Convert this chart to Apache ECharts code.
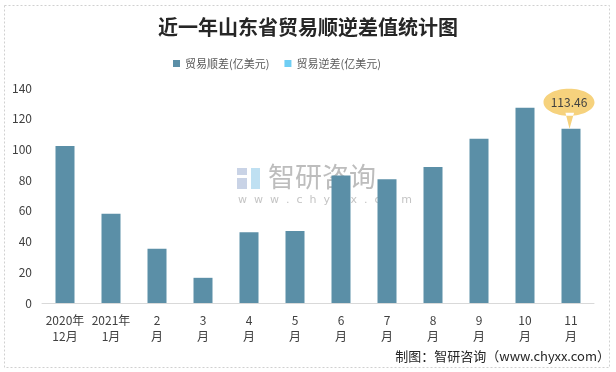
<!DOCTYPE html>
<html><head><meta charset="utf-8">
<script src="https://cdn.jsdelivr.net/npm/echarts@6/dist/echarts.min.js"></script>
<style>html,body{margin:0;padding:0;background:#fff}#c{width:616px;height:372px}</style>
</head><body><div id="c"></div>
<script>
const categories = ['2020年\n12月','2021年\n1月','2\n月','3\n月','4\n月','5\n月','6\n月','7\n月','8\n月','9\n月','10\n月','11\n月'];
const surplus = [102.2, 58.1, 35.3, 16.4, 46.1, 46.9, 83.1, 80.6, 88.6, 106.9, 127.1, 113.46];
const deficit = [];
const yTicks = [0, 20, 40, 60, 80, 100, 120, 140];
const highlightIndex = 11;

const chart = echarts.init(document.getElementById('c'));
const font = '"Microsoft YaHei","Noto Sans CJK SC",sans-serif';
const bubble = 'path://M0 13.5C0 6.04 11.19 0 25 0C38.81 0 50 6.04 50 13.5C50 20.96 38.81 27 25 27C11.19 27 0 20.96 0 13.5Z M21.5 24L25.5 40L30 24Z';
chart.setOption({
  animation: false,
  title: {
    text: '近一年山东省贸易顺逆差值统计图',
    left: 'center', top: 12,
    textStyle: {fontFamily: '"Noto Sans CJK SC",serif', fontSize: 20, fontWeight: 'bold', color: '#262626'}
  },
  legend: {
    top: 53, left: 168, itemWidth: 7, itemHeight: 7, itemGap: 15,
    icon: 'rect',
    textStyle: {fontFamily: font, fontSize: 11, color: '#595959'},
    data: ['贸易顺差(亿美元)', '贸易逆差(亿美元)']
  },
  grid: {left: 42, right: 22, top: 88, bottom: 69},
  xAxis: {
    type: 'category', data: categories,
    axisLine: {lineStyle: {color: '#D9D9D9'}},
    axisTick: {show: false},
    axisLabel: {interval: 0, color: '#404040', fontFamily: font, fontSize: 12, lineHeight: 16, margin: 9}
  },
  yAxis: {
    type: 'value', min: yTicks[0], max: yTicks[yTicks.length - 1], interval: 20,
    axisLine: {show: false}, axisTick: {show: false}, splitLine: {show: false},
    axisLabel: {color: '#404040', fontFamily: font, fontSize: 12, margin: 10}
  },
  series: [
    {
      name: '贸易顺差(亿美元)', type: 'bar', stack: 's', barWidth: 19, data: surplus,
      itemStyle: {color: '#5B8FA7'}, z: 3,
      markPoint: {
        symbol: bubble, symbolSize: [51, 40], symbolOffset: [-2, '-50%'],
        itemStyle: {color: '#F6D27D'},
        label: {show: true, offset: [0, -6.5], color: '#404040', fontFamily: font, fontSize: 12,
          formatter: p => p.value.toFixed(2)},
        data: [{coord: [highlightIndex, surplus[highlightIndex]], value: surplus[highlightIndex]}]
      }
    },
    {
      name: '贸易逆差(亿美元)', type: 'bar', stack: 's', barWidth: 19, data: deficit,
      itemStyle: {color: '#6FCEF4'}
    }
  ],
  graphic: [
    {type: 'rect', shape: {x: 4.5, y: 5.5, width: 605, height: 362}, style: {fill: 'none', stroke: '#D0D0D0', lineWidth: 1, lineDash: [2, 2]}, z: -10},
    {type: 'group', left: 237, top: 163, z: -5, children: [
      {type: 'rect', shape: {x: 0, y: 3, width: 10, height: 7}, style: {fill: '#C9D3E6'}},
      {type: 'rect', shape: {x: 0, y: 13, width: 10, height: 11}, style: {fill: '#C9D3E6'}},
      {type: 'rect', shape: {x: 14, y: 3, width: 9, height: 21}, style: {fill: '#BFE0F2'}},
      {type: 'text', x: 31, y: -2, style: {text: '智研咨询', font: '27px "Noto Sans CJK SC",sans-serif', fill: '#BDBDBD'}},
      {type: 'text', x: 1, y: 30, style: {text: 'w  w  w  .  c  h  y  x  x  .  c  o  m', font: '11px "DejaVu Sans",sans-serif', fill: '#C4C4C4'}}
    ]},
    {type: 'text', right: 6, top: 350, style: {text: '制图：智研咨询（www.chyxx.com）', font: '13px "Noto Sans CJK SC",sans-serif', fill: '#262626'}}
  ]
});
</script></body></html>
